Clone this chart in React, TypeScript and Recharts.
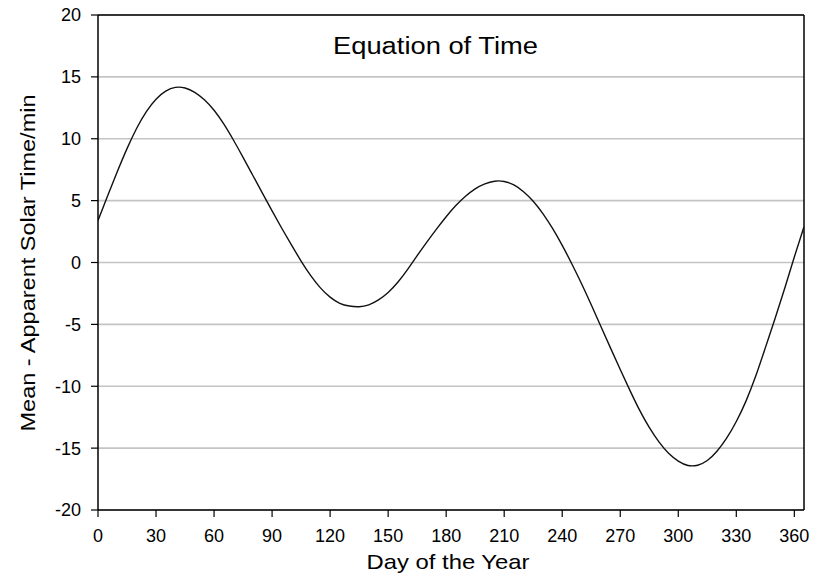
import React from "react";
import { LineChart, Line, XAxis, YAxis, CartesianGrid, ReferenceLine } from "recharts";

const days = [
  0, 5, 10, 15, 20, 25, 30, 35, 40, 45, 50, 55, 60, 65, 70, 75, 80, 85, 90, 95,
  100, 105, 110, 115, 120, 125, 130, 135, 140, 145, 150, 155, 160, 165, 170, 175,
  180, 185, 190, 195, 200, 205, 210, 215, 220, 225, 230, 235, 240, 245, 250, 255,
  260, 265, 270, 275, 280, 285, 290, 295, 300, 305, 310, 315, 320, 325, 330, 335,
  340, 345, 350, 355, 360, 365,
];

const meanMinusApparent = [
  3.4, 5.4, 7.35, 9.2, 10.85, 12.2, 13.2, 13.85, 14.15, 14.1, 13.75, 13.15, 12.3,
  11.2, 9.9, 8.5, 7.05, 5.6, 4.17, 2.77, 1.42, 0.12, -1.06, -2.05, -2.8, -3.3,
  -3.52, -3.57, -3.42, -3.02, -2.42, -1.6, -0.58, 0.55, 1.65, 2.7, 3.7, 4.6, 5.35,
  5.95, 6.35, 6.57, 6.55, 6.27, 5.72, 4.95, 3.95, 2.75, 1.38, -0.12, -1.72, -3.42,
  -5.17, -6.92, -8.65, -10.33, -11.93, -13.33, -14.5, -15.42, -16.05, -16.4,
  -16.38, -16.0, -15.25, -14.2, -12.85, -11.2, -9.2, -6.9, -4.55, -2.1, 0.45, 2.9,
];

const xTicks = [0, 30, 60, 90, 120, 150, 180, 210, 240, 270, 300, 330, 360];
const yTicks = [-20, -15, -10, -5, 0, 5, 10, 15, 20];

const data = days.map((d, i) => ({ day: d, value: meanMinusApparent[i] }));

const FONT = "'Liberation Sans', Arial, Helvetica, sans-serif";

export default function App() {
  return (
    <div style={{ position: "absolute", left: 0, top: 0, width: 818, height: 578, background: "#fff" }}>
      <LineChart
        width={818}
        height={578}
        data={data}
        margin={{ top: 15, right: 14, left: 0, bottom: 0 }}
      >
        <CartesianGrid vertical={false} stroke="#c4c4c4" strokeWidth={1.6} />
        <XAxis
          dataKey="day"
          type="number"
          domain={[0, 365]}
          ticks={xTicks}
          height={68}
          tickSize={7}
          tickMargin={12}
          axisLine={{ stroke: "#000", strokeWidth: 1.5 }}
          tickLine={{ stroke: "#000", strokeWidth: 1.2 }}
          tick={{ fill: "#000", fontSize: 18, fontFamily: FONT }}
          interval={0}
          allowDataOverflow
        />
        <YAxis
          type="number"
          domain={[-20, 20]}
          ticks={yTicks}
          width={98}
          tickSize={7}
          tickMargin={10}
          axisLine={{ stroke: "#000", strokeWidth: 1.5 }}
          tickLine={{ stroke: "#000", strokeWidth: 1.2 }}
          tick={{ fill: "#000", fontSize: 18, fontFamily: FONT }}
          interval={0}
          allowDataOverflow
        />
        <ReferenceLine y={20} stroke="#000" strokeWidth={1.5} />
        <ReferenceLine x={365} stroke="#000" strokeWidth={1.5} />
        <Line
          type="natural"
          dataKey="value"
          stroke="#111"
          strokeWidth={1.4}
          dot={false}
          isAnimationActive={false}
        />
        <text
          x={435.5}
          y={54}
          textAnchor="middle"
          fontSize={23}
          fontFamily={FONT}
          fill="#000"
          textLength={205}
          lengthAdjust="spacingAndGlyphs"
        >
          Equation of Time
        </text>
        <text
          x={448}
          y={569}
          textAnchor="middle"
          fontSize={21}
          fontFamily={FONT}
          fill="#000"
          textLength={163}
          lengthAdjust="spacingAndGlyphs"
        >
          Day of the Year
        </text>
        <text
          x={0}
          y={0}
          transform="translate(35, 263) rotate(-90)"
          textAnchor="middle"
          fontSize={21}
          fontFamily={FONT}
          fill="#000"
          textLength={337}
          lengthAdjust="spacingAndGlyphs"
        >
          Mean - Apparent Solar Time/min
        </text>
      </LineChart>
    </div>
  );
}
